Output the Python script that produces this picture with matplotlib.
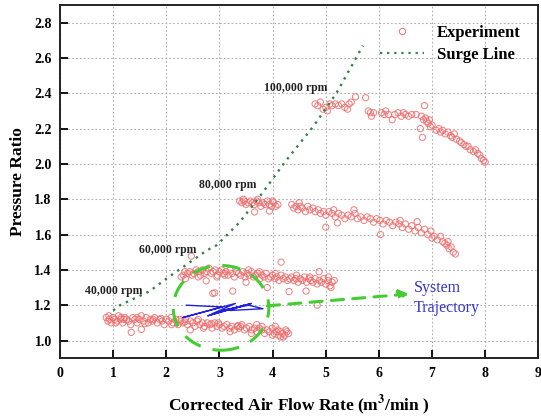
import matplotlib
matplotlib.use("Agg")
import matplotlib.pyplot as plt
from matplotlib.patches import Ellipse
from matplotlib.lines import Line2D

plt.rcParams['font.family'] = ['Liberation Serif', 'DejaVu Serif']
plt.rcParams['font.weight'] = 'bold'
plt.rcParams['mathtext.fontset'] = 'stix'

#------------------------------------
# compressor map (x = flow m3/min, y = pressure ratio)
speed_40k = [(0.87, 1.13), (0.90, 1.11), (0.93, 1.12), (0.96, 1.10), (1.00, 1.13), (1.03, 1.12),
             (1.07, 1.11), (1.10, 1.14), (1.14, 1.12), (1.18, 1.10), (1.22, 1.13), (1.25, 1.12),
             (1.29, 1.11), (1.33, 1.09), (1.37, 1.13), (1.41, 1.12), (1.45, 1.10), (1.49, 1.12),
             (1.53, 1.14), (1.57, 1.11), (1.62, 1.13), (1.66, 1.10), (1.70, 1.12), (1.74, 1.11),
             (1.78, 1.13), (1.83, 1.10), (1.87, 1.12), (1.92, 1.11), (1.96, 1.09), (2.00, 1.12),
             (2.05, 1.11), (2.09, 1.13), (2.13, 1.10), (2.18, 1.12), (2.22, 1.09), (2.27, 1.11),
             (2.31, 1.10), (2.36, 1.12), (2.40, 1.09), (2.45, 1.11), (2.50, 1.10), (2.54, 1.08),
             (2.58, 1.11), (2.63, 1.09), (2.68, 1.10), (2.72, 1.08), (2.77, 1.10), (2.82, 1.09),
             (2.86, 1.07), (2.91, 1.10), (2.95, 1.08), (3.00, 1.09), (3.05, 1.07), (3.09, 1.08),
             (3.14, 1.09), (3.19, 1.07), (3.23, 1.08), (3.28, 1.06), (3.33, 1.08), (3.37, 1.07),
             (3.42, 1.09), (3.47, 1.06), (3.51, 1.07), (3.56, 1.08), (3.61, 1.06), (3.66, 1.07),
             (3.70, 1.05), (3.75, 1.07), (3.80, 1.06), (3.85, 1.04), (3.90, 1.06), (3.94, 1.05),
             (3.99, 1.07), (4.03, 1.04), (4.07, 1.05), (4.11, 1.03), (4.15, 1.05), (4.19, 1.04),
             (4.23, 1.03), (4.27, 1.05), (4.30, 1.04),
             (1.34, 1.046), (1.53, 1.063), (0.92, 1.14), (1.15, 1.13), (1.45, 1.13), (1.90, 1.125),
             (2.25, 1.12), (2.60, 1.12), (2.98, 1.10), (3.40, 1.08), (3.80, 1.08), (4.10, 1.06),
             (4.20, 1.02), (4.25, 1.06), (2.45, 1.06), (2.70, 1.07), (3.70, 1.09), (4.15, 1.02),
             (2.10, 1.09), (1.60, 1.095), (1.05, 1.10), (3.20, 1.05), (3.60, 1.04), (4.00, 1.03),
             (4.05, 1.08), (1.20, 1.12), (1.75, 1.12), (2.35, 1.105), (2.85, 1.095), (3.35, 1.085)]

speed_60k = [(2.28, 1.36), (2.32, 1.37), (2.36, 1.35), (2.40, 1.38), (2.44, 1.39), (2.48, 1.37),
             (2.52, 1.38), (2.56, 1.40), (2.60, 1.39), (2.64, 1.37), (2.68, 1.40), (2.72, 1.38),
             (2.76, 1.39), (2.80, 1.41), (2.84, 1.38), (2.88, 1.39), (2.92, 1.40), (2.96, 1.37),
             (3.00, 1.39), (3.04, 1.40), (3.08, 1.38), (3.12, 1.39), (3.16, 1.37), (3.20, 1.40),
             (3.24, 1.38), (3.28, 1.36), (3.32, 1.39), (3.36, 1.38), (3.40, 1.37), (3.44, 1.39),
             (3.48, 1.36), (3.52, 1.38), (3.56, 1.37), (3.60, 1.39), (3.64, 1.36), (3.68, 1.37),
             (3.72, 1.38), (3.76, 1.35), (3.80, 1.37), (3.84, 1.36), (3.88, 1.38), (3.92, 1.35),
             (3.96, 1.36), (4.00, 1.37), (4.04, 1.35), (4.08, 1.36), (4.12, 1.34), (4.16, 1.37),
             (4.20, 1.35), (4.24, 1.36), (4.28, 1.34), (4.32, 1.35), (4.36, 1.36), (4.40, 1.34),
             (4.44, 1.35), (4.48, 1.33), (4.52, 1.35), (4.56, 1.34), (4.60, 1.36), (4.64, 1.33),
             (4.68, 1.35), (4.72, 1.34), (4.76, 1.33), (4.80, 1.35), (4.84, 1.32), (4.88, 1.34),
             (4.92, 1.33), (4.96, 1.35), (5.00, 1.32), (5.04, 1.34), (5.08, 1.31), (5.12, 1.33),
             (5.16, 1.34),
             (2.47, 1.478), (2.75, 1.338), (2.91, 1.27), (3.25, 1.28), (2.875, 1.267),
             (3.50, 1.33), (3.90, 1.30), (4.31, 1.277), (4.63, 1.28), (4.16, 1.444), (4.84, 1.20),
             (4.875, 1.39), (2.60, 1.36), (3.10, 1.37), (3.55, 1.40), (4.05, 1.38), (4.70, 1.36),
             (2.35, 1.39), (2.95, 1.36), (3.75, 1.39), (4.45, 1.37), (5.05, 1.36), (5.10, 1.30)]

speed_80k = [(3.38, 1.79), (3.42, 1.78), (3.46, 1.79), (3.50, 1.77), (3.54, 1.78), (3.58, 1.79),
             (3.62, 1.78), (3.66, 1.77), (3.70, 1.79), (3.74, 1.78), (3.78, 1.76), (3.82, 1.78),
             (3.86, 1.77), (3.90, 1.79), (3.94, 1.77), (3.98, 1.76), (4.02, 1.78), (4.06, 1.76),
             (4.10, 1.77), (4.36, 1.77), (4.40, 1.75), (4.44, 1.76), (4.48, 1.74), (4.52, 1.76),
             (4.56, 1.75), (4.62, 1.73), (4.66, 1.76), (4.70, 1.74), (4.76, 1.75), (4.80, 1.73),
             (4.86, 1.74), (4.90, 1.72), (4.96, 1.73), (5.00, 1.71), (5.06, 1.73), (5.12, 1.72),
             (5.18, 1.70), (5.24, 1.72), (5.30, 1.71), (5.36, 1.69), (5.42, 1.71), (5.48, 1.70),
             (5.55, 1.72), (5.60, 1.69), (5.66, 1.70), (5.72, 1.68), (5.78, 1.70), (5.84, 1.69),
             (5.90, 1.67), (5.96, 1.69), (6.02, 1.68), (6.08, 1.66), (6.14, 1.68), (6.20, 1.67),
             (6.26, 1.65), (6.32, 1.67), (6.38, 1.66), (6.44, 1.64), (6.50, 1.66), (6.56, 1.63),
             (6.62, 1.65), (6.68, 1.62), (6.74, 1.64), (6.80, 1.61), (6.86, 1.63), (6.92, 1.60),
             (6.98, 1.62), (7.04, 1.59), (7.10, 1.57), (7.16, 1.59), (7.20, 1.56), (7.24, 1.55),
             (7.28, 1.54), (7.32, 1.52), (7.36, 1.53), (7.40, 1.50), (7.44, 1.49),
             (3.66, 1.728), (3.94, 1.733), (5.00, 1.642), (5.22, 1.666), (5.53, 1.74),
             (6.03, 1.60), (6.72, 1.673), (3.45, 1.80), (3.72, 1.80), (4.50, 1.78), (4.00, 1.79),
             (5.15, 1.74), (6.40, 1.68), (7.00, 1.58), (7.30, 1.56)]

speed_100k = [(4.80, 2.34), (4.85, 2.33), (4.90, 2.35), (4.95, 2.31), (5.00, 2.32), (5.03, 2.30),
              (5.08, 2.34), (5.12, 2.33), (5.18, 2.34), (5.24, 2.33), (5.30, 2.34), (5.36, 2.32),
              (5.41, 2.31), (5.44, 2.34), (5.48, 2.35), (5.56, 2.38), (5.75, 2.375), (5.80, 2.30),
              (5.84, 2.29), (5.86, 2.27), (5.90, 2.29), (6.05, 2.29), (6.10, 2.28), (6.13, 2.30),
              (6.18, 2.28), (6.25, 2.25), (6.30, 2.28), (6.36, 2.29), (6.42, 2.27), (6.46, 2.29),
              (6.50, 2.28), (6.56, 2.27), (6.62, 2.28), (6.70, 2.28), (6.80, 2.27), (6.84, 2.25),
              (6.86, 2.33), (6.88, 2.26), (6.78, 2.20), (6.90, 2.24), (6.93, 2.23), (6.95, 2.25),
              (6.97, 2.21), (7.00, 2.22), (6.82, 2.15), (7.08, 2.19), (7.13, 2.20), (7.16, 2.18),
              (7.20, 2.19), (7.25, 2.17), (7.30, 2.18), (7.35, 2.16), (7.38, 2.15), (7.42, 2.17),
              (7.46, 2.14), (7.52, 2.13), (7.55, 2.12), (7.60, 2.11), (7.64, 2.10), (7.68, 2.10),
              (7.72, 2.08), (7.78, 2.07), (7.82, 2.08), (7.86, 2.06), (7.90, 2.05), (7.93, 2.03),
              (7.97, 2.02), (8.00, 2.01)]

surge_x = [1.00, 1.13, 1.69, 2.00, 2.76, 2.95, 3.38, 3.82, 4.23, 4.76, 5.20, 5.70]
surge_y = [1.17, 1.20, 1.28, 1.35, 1.51, 1.54, 1.67, 1.84, 2.01, 2.21, 2.40, 2.67]

# hand drawn system trajectory (zig-zag)
traj_x = [2.38, 3.05, 2.31, 3.30, 2.85, 3.60, 2.78, 3.35, 3.05, 3.55, 3.82, 3.20, 3.45]
traj_y = [1.20, 1.19, 1.13, 1.21, 1.15, 1.21, 1.14, 1.19, 1.17, 1.20, 1.18, 1.17, 1.20]

rpm_labels = ['40,000 rpm', '60,000 rpm', '80,000 rpm', '100,000 rpm']
rpm_label_pos = [(0.47, 1.28), (1.48, 1.51), (2.62, 1.88), (3.83, 2.43)]
#------------------------------------

fig = plt.figure(figsize=(5.41, 4.16), dpi=100)
ax = fig.add_axes([0.111, 0.139, 0.884, 0.849])

red = '#ee6e6e'
for band in [speed_40k, speed_60k, speed_80k, speed_100k]:
    xs = [p[0] for p in band]
    ys = [p[1] for p in band]
    ax.scatter(xs, ys, s=20, facecolors='none', edgecolors=red, linewidths=0.75, alpha=0.85, zorder=3)

ax.plot(surge_x, surge_y, linestyle=(0, (1, 2.2)), color='#357f48', lw=1.7, zorder=4)

ax.plot(traj_x, traj_y, color='#2020dd', lw=1.0, zorder=5)

ell = Ellipse((3.03, 1.185), 1.80, 0.48, fill=False, edgecolor='#44cc33', lw=2.2,
              linestyle=(0, (6, 4)), zorder=5)
ax.add_patch(ell)
ax.annotate('', xy=(6.62, 1.265), xytext=(3.85, 1.195),
            arrowprops=dict(arrowstyle='-|>', color='#44cc33', lw=2.2, linestyle=(0, (4, 3)),
                            mutation_scale=14), zorder=5)
ax.text(6.65, 1.30, 'System', color='#3535cc', fontsize=11.5, fontweight='normal', va='center')
ax.text(6.65, 1.185, 'Trajectory', color='#3535cc', fontsize=11.5, fontweight='normal', va='center')

for lab, (lx, ly) in zip(rpm_labels, rpm_label_pos):
    ax.text(lx, ly, lab, fontsize=8.5, fontweight='bold', va='center', color='#222222')

ax.set_xlim(0, 9)
ax.set_ylim(0.9, 2.9)
ax.set_xticks(range(0, 10))
ax.set_yticks([1.0, 1.2, 1.4, 1.6, 1.8, 2.0, 2.2, 2.4, 2.6, 2.8])
ax.set_yticklabels(['1.0', '1.2', '1.4', '1.6', '1.8', '2.0', '2.2', '2.4', '2.6', '2.8'])
ax.tick_params(direction='in', length=6, width=1.3, labelsize=10, pad=6)
ax.grid(True, linestyle=(0, (1.5, 2)), color='#b0b0b0', lw=0.8)
ax.set_axisbelow(True)
for s in ax.spines.values():
    s.set_linewidth(1.4)
    s.set_color('#222222')

ax.set_xlabel(r'Corrected Air Flow Rate (m$^{\mathbf{3}}$/min )', fontsize=12.5, fontweight='bold', labelpad=10)
ax.set_ylabel('Pressure Ratio', fontsize=12.5, fontweight='bold', labelpad=6)

handles = [Line2D([], [], marker='o', ls='none', markerfacecolor='none', markeredgecolor=red,
                  markersize=4.5, markeredgewidth=0.7),
           Line2D([], [], linestyle=(0, (1, 2.2)), color='#357f48', lw=1.6)]
ax.legend(handles, ['Experiment', 'Surge Line'], loc='upper right', bbox_to_anchor=(0.995, 0.985),
          frameon=False, prop={'size': 12, 'weight': 'bold'}, handlelength=2.6, labelspacing=0.35)

fig.savefig('out.png', dpi=100)
